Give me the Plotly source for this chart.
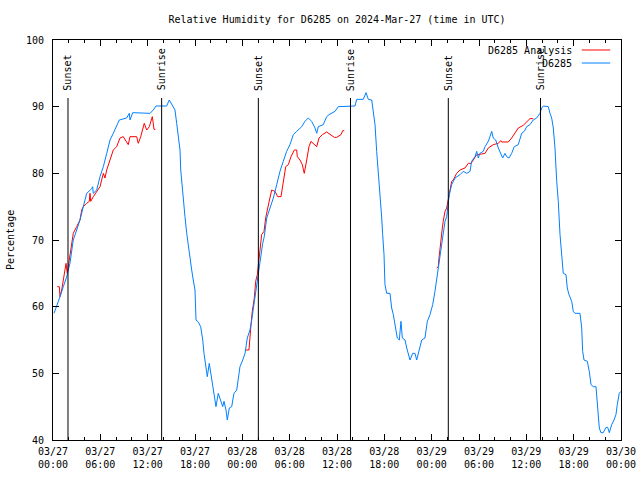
import pandas as pd
import plotly.graph_objects as go

START = pd.Timestamp("2024-03-27 00:00")

# D6285 observations: hours since 03/27 00:00 UTC, relative humidity (%)
blue_hours = [0.13, 0.47, 0.89, 1.31, 1.74, 2.15, 2.57, 3.0, 3.42, 3.84, 4.27, 4.91, 5.03, 5.1, 5.54,
              5.96, 6.38, 6.81, 7.23, 7.64, 8.07, 8.4, 9.34, 9.67, 9.76, 10.1, 12.3, 12.71, 13.06, 14.2,
              14.41, 14.74, 15.05, 15.46, 15.68, 15.88, 16.1, 16.19, 16.35, 16.52, 16.73, 16.95, 17.15,
              17.37, 17.58, 17.78, 18.0, 18.13, 18.42, 18.72, 18.98, 19.14, 19.39, 19.56, 19.81, 19.99,
              20.24, 20.45, 20.66, 20.95, 21.26, 21.51, 21.68, 21.93, 22.09, 22.35, 22.65, 22.94, 23.29,
              23.49, 23.7, 24.05, 24.34, 24.63, 24.97, 25.19, 25.48, 25.73, 25.95, 26.15, 26.37, 26.58,
              26.78, 27.09, 27.51, 27.93, 28.36, 28.77, 29.19, 29.62, 30.04, 30.46, 30.89, 31.53, 31.94,
              32.36, 32.79, 33.21, 33.43, 33.63, 34.26, 34.69, 34.98, 35.33, 35.75, 36.16, 37.01, 38.28,
              38.5, 39.33, 39.68, 39.97, 40.4, 40.6, 40.82, 41.03, 41.24, 41.45, 41.67, 41.79, 41.96,
              42.08, 42.3, 42.72, 42.93, 43.14, 43.35, 43.64, 43.9, 44.11, 44.28, 44.62, 44.84, 45.25,
              45.6, 45.89, 46.1, 46.43, 46.74, 47.15, 47.45, 47.79, 48.13, 48.42, 48.71, 49.06, 49.27,
              49.47, 49.69, 49.9, 50.11, 50.23, 50.54, 50.96, 51.59, 52.01, 52.44, 52.86, 53.07, 53.49,
              53.71, 53.91, 54.12, 54.54, 54.76, 55.18, 55.39, 55.61, 55.81, 56.12, 56.45, 56.79, 57.0,
              57.29, 57.51, 57.8, 58.14, 58.47, 58.98, 59.41, 59.74, 60.05, 60.46, 60.88, 61.31, 61.73,
              61.95, 62.15, 62.78, 63.0, 63.21, 63.42, 63.63, 63.85, 64.05, 64.27, 64.48, 64.68, 65.03,
              65.19, 65.41, 65.75, 65.95, 66.17, 66.8, 67.02, 67.14, 67.31, 67.73, 67.98, 68.2, 68.49,
              68.83, 69.05, 69.25, 69.46, 69.75, 70.1, 70.31, 70.52, 70.82, 71.11, 71.36, 71.53, 71.78,
              72.0]
blue_vals = [59.0, 60.0, 61.5, 63.0, 64.5, 66.5, 70.0, 71.5, 73.0, 75.0, 77.0, 77.7, 78.0, 77.0, 77.5,
             79.5, 81.0, 83.0, 85.0, 86.0, 87.0, 88.0, 88.3, 89.0, 88.0, 89.1, 89.0, 89.5, 90.1, 90.1,
             90.1, 91.0, 90.3, 89.5, 87.5, 85.5, 83.5, 80.5, 78.0, 75.5, 73.5, 71.0, 69.0,
             67.0, 65.5, 64.0, 62.5, 58.0, 57.7, 57.0, 55.0, 53.0, 51.0, 49.5, 51.5, 50.0,
             48.5, 46.5, 45.0, 47.0, 46.0, 45.0, 45.8, 44.5, 43.0, 44.8, 45.0, 47.0, 47.5,
             49.5, 51.0, 52.0, 53.0, 55.3, 56.5, 58.0, 60.5, 62.5, 64.0, 66.0, 67.5, 69.5,
             70.5, 73.3, 74.8, 76.3, 78.3, 80.3, 81.8, 83.3, 84.3, 85.8, 86.3, 87.0, 87.8,
             88.3, 87.8, 86.8, 86.0, 87.0, 87.3, 88.5, 88.8, 89.0, 89.3, 90.0, 90.0, 90.1,
             91.1, 91.1, 92.1, 91.1, 91.0, 89.3, 87.3, 83.3, 80.3, 76.8, 73.3, 70.8, 67.8,
             63.3, 62.0, 62.0, 59.8, 58.8, 57.3, 55.3, 55.0, 57.8, 55.3, 55.0, 53.8, 52.0,
             53.0, 53.0, 52.0, 53.8, 55.0, 55.3, 57.8, 58.8, 60.3, 62.3, 64.8, 67.8, 69.3,
             71.3, 72.8, 73.5, 75.3, 76.8, 78.3, 79.3, 79.8, 80.3, 80.0, 80.3, 81.8, 82.5,
             83.3, 82.3, 83.0, 83.3, 84.0, 84.8, 85.5, 86.3, 85.3, 85.0, 83.8, 83.0, 82.3,
             83.0, 82.5, 82.3, 83.0, 84.0, 84.3, 86.0, 86.3, 87.0, 87.3, 88.0, 88.3, 89.0,
             89.8, 90.1, 90.0, 89.0, 88.3, 86.8, 83.8, 78.8, 75.8, 70.8, 67.3, 65.0, 64.8,
             62.8, 61.8, 60.8, 59.3, 59.0, 59.0, 56.8, 53.3, 52.0, 51.8, 50.3, 48.3, 48.0,
             48.0, 44.3, 41.8, 41.1, 41.1, 41.9, 41.9, 41.1, 42.3, 43.0, 43.8, 45.3, 47.0,
             47.3]

# D6285 Analysis: three night-time segments (None separates them)
red_hours = [0.55, 0.8, 0.89, 1.1, 1.31, 1.52, 1.65, 1.81, 1.94, 2.15, 2.37, 2.57, 3.0, 3.42, 3.64,
             3.84, 4.27, 4.6, 4.69, 4.78, 5.11, 5.54, 5.96, 6.38, 6.59, 6.81, 7.23, 7.64, 8.07, 8.49,
             8.91, 9.54, 9.76, 10.61, 10.81, 11.12, 11.57, 11.88, 12.21, 12.59, 12.71, 12.8, 12.97,
             None,
             24.34, 24.84, 25.1, 25.26, 25.52, 25.69, 25.9, 26.11, 26.45, 26.75, 26.96, 27.22, 27.51,
             27.72, 28.14, 28.48, 28.9, 29.19, 29.5, 29.83, 30.17, 30.59, 30.89, 30.97, 31.31, 31.6,
             31.85, 32.16, 32.45, 32.7, 33.0, 33.43, 33.72, 34.14, 34.69, 35.24, 35.66, 35.96, 36.51,
             36.72, 36.92,
             None,
             48.64, 48.84, 48.93, 49.06, 49.18, 49.35, 49.47, 49.69, 49.9, 50.11, 50.32, 50.54, 50.74,
             50.96, 51.17, 51.59, 52.22, 52.64, 52.99, 53.28, 53.71, 54.34, 54.76, 55.18, 55.81, 56.45,
             56.75, 56.88, 57.71, 58.14, 58.56, 58.98, 59.61, 60.05, 60.46, 60.88]
red_vals = [63.0, 63.0, 61.5, 62.5, 64.0, 65.5, 66.5, 65.0, 66.0, 67.5, 69.5, 71.0, 72.0, 73.0, 74.5,
            75.0, 75.5, 75.8, 77.0, 75.8, 76.5, 77.3, 78.0, 80.0, 79.3, 80.5, 82.0, 83.5, 84.0, 85.3,
            85.5, 84.3, 85.5, 85.5, 84.5, 85.5, 87.5, 86.5, 87.0, 88.5, 87.5, 86.6, 86.6,
            None,
            53.5, 53.5, 57.3, 59.3, 61.3, 63.8, 64.8, 67.3, 70.8, 71.3, 73.3, 74.8, 76.3,
            77.5, 77.3, 76.5, 76.5, 78.8, 81.0, 81.3, 82.5, 83.5, 83.5, 82.5, 82.0, 81.3,
            80.0, 82.0, 84.0, 84.8, 84.5, 84.0, 85.3, 85.8, 86.2, 85.8, 85.4, 85.4, 85.8,
            86.4, 86.4,
            None,
            65.8, 66.0, 67.3, 68.8, 70.8, 71.8, 72.8, 74.3, 74.8, 76.3, 77.3, 78.8, 79.0,
            79.5, 80.0, 80.5, 80.8, 81.5, 81.5, 82.0, 82.8, 82.9, 83.0, 83.8, 84.3, 84.5,
            84.9, 84.7, 84.7, 85.3, 86.0, 86.8, 87.2, 87.8, 88.2, 88.2]

# Sun events (hours since start)
sun_hours = [1.9, 13.77, 26.03, 37.71, 50.11, 61.8]
sun_labels = ["Sunset", "Sunrise", "Sunset", "Sunrise", "Sunset", "Sunrise"]
SUN_LINE_TOP = 91.3

y_ticks = [40, 50, 60, 70, 80, 90, 100]


def to_time(hours):
    return [None if h is None else START + pd.Timedelta(hours=h) for h in hours]


FONT = "DejaVu Sans Mono"
BLUE = "rgb(0,128,255)"
RED = "rgb(255,0,0)"

fig = go.Figure()
fig.add_trace(go.Scatter(x=to_time(red_hours), y=red_vals, mode="lines", name="D6285 Analysis",
                         line=dict(color=RED, width=1), showlegend=False, connectgaps=False))
fig.add_trace(go.Scatter(x=to_time(blue_hours), y=blue_vals, mode="lines", name="D6285",
                         line=dict(color=BLUE, width=1), showlegend=False))

for h, lab in zip(sun_hours, sun_labels):
    t = START + pd.Timedelta(hours=h)
    fig.add_shape(type="line", xref="x", yref="y", x0=t, x1=t, y0=40, y1=SUN_LINE_TOP,
                  line=dict(color="black", width=1))
    fig.add_annotation(x=t, y=SUN_LINE_TOP + 0.8, xref="x", yref="y", text=lab, textangle=-90,
                       showarrow=False, xanchor="center", yanchor="bottom",
                       font=dict(family=FONT, size=10, color="black"))

# gnuplot-style legend (text left of sample)
legend_rows = [("D6285 Analysis", RED, 0.975), ("D6285", BLUE, 0.9425)]
for text, col, yy in legend_rows:
    fig.add_annotation(x=0.918, y=yy, xref="paper", yref="paper", text=text, showarrow=False,
                       xanchor="right", yanchor="middle", font=dict(family=FONT, size=10, color="black"))
    fig.add_shape(type="line", xref="paper", yref="paper", x0=0.931, x1=0.981, y0=yy, y1=yy,
                  line=dict(color=col, width=1))

fig.add_annotation(x=-0.0757, y=0.5, xref="paper", yref="paper", text="Percentage", textangle=-90,
                   showarrow=False, xanchor="center", yanchor="middle",
                   font=dict(family=FONT, size=10, color="black"))

fig.update_layout(
    width=640, height=480,
    margin=dict(l=53, r=19, t=40, b=40, autoexpand=False),
    paper_bgcolor="white", plot_bgcolor="white",
    title=dict(text="Relative Humidity for D6285 on 2024-Mar-27 (time in UTC)",
               x=0.5, xref="paper", xanchor="center", y=1 - 19 / 480, yanchor="middle",
               font=dict(family=FONT, size=10, color="black")),
    font=dict(family=FONT, size=10, color="black"),
    showlegend=False,
)
fig.update_xaxes(
    type="date", automargin=False,
    range=[START, START + pd.Timedelta(hours=72)],
    tick0=START, dtick=6 * 3600 * 1000, tickformat="%m/%d<br>%H:%M",
    ticks="inside", ticklen=6, tickcolor="black", ticklabelstandoff=2,
    minor=dict(dtick=2 * 3600 * 1000, ticks="inside", ticklen=3, tickcolor="black"),
    showline=True, linecolor="black", linewidth=1, mirror="ticks",
    showgrid=False, zeroline=False,
    tickfont=dict(family=FONT, size=10, color="black"),
)
fig.update_yaxes(
    automargin=False,
    range=[40, 100], tickvals=y_ticks,
    ticks="inside", ticklen=6, tickcolor="black", ticklabelstandoff=6,
    showline=True, linecolor="black", linewidth=1, mirror="ticks",
    showgrid=False, zeroline=False,
    tickfont=dict(family=FONT, size=10, color="black"),
)

fig.write_html("out.html", config={"displayModeBar": False},
               post_script="document.body.style.margin='0px';")
